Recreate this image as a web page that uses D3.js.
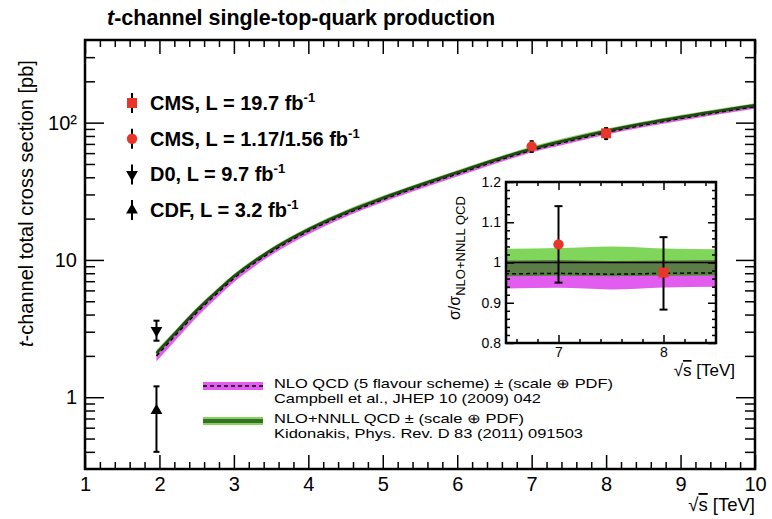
<!DOCTYPE html>
<html lang="en">
<head>
<meta charset="utf-8">
<title>t-channel single-top-quark production</title>
<script src="https://d3js.org/d3.v7.min.js"></script>
<style>
	body { margin: 0; background: #fff; }
	text { font-family: "Liberation Sans", Arial, Helvetica, sans-serif; fill: #000; }
	.axis path.domain { display: none; }
	.axis line { stroke: #000; stroke-width: 1.5; }
</style>
</head>
<body>
<div id="chart"></div>
<script>
// theory curves (sqrt(s) in TeV, cross section in pb)
var energy  = [1.96, 2.25, 2.5, 2.8, 3, 3.5, 4, 4.5, 5, 6, 6.5, 7, 7.5, 8, 8.5, 9, 10];
var nnll    = [2.1, 3.1, 4.3, 6.1, 7.6, 11.8, 16.7, 22.2, 28.3, 43.5, 53.5, 64.6, 75.5, 87.1, 98.5, 110, 134];
// bands and NLO as ratio to NLO+NNLL
var nnllLo  = [0.95, 0.955, 0.958, 0.96, 0.962, 0.963, 0.964, 0.965, 0.965, 0.966, 0.966, 0.967, 0.966, 0.967, 0.968, 0.968, 0.968];
var nnllHi  = [1.05, 1.045, 1.042, 1.04, 1.038, 1.037, 1.036, 1.036, 1.035, 1.035, 1.034, 1.036, 1.04, 1.035, 1.033, 1.033, 1.032];
var nloMid  = [0.95, 0.955, 0.96, 0.963, 0.965, 0.968, 0.97, 0.97, 0.971, 0.972, 0.972, 0.973, 0.971, 0.973, 0.974, 0.974, 0.975];
var nloLo   = [0.87, 0.88, 0.89, 0.9, 0.905, 0.915, 0.92, 0.925, 0.928, 0.932, 0.935, 0.937, 0.933, 0.938, 0.94, 0.94, 0.942];
var nloHi   = [1.0, 1.0, 1.0, 1.0, 1.0, 1.003, 1.004, 1.005, 1.005, 1.005, 1.005, 1.006, 1.004, 1.005, 1.006, 1.006, 1.007];

// measurements
var cmsE        = [7, 8];
var cmsSymbol   = ["circle", "square"];
var cmsXsec     = [67.2, 83.6];
var cmsErr      = [6.1, 7.7];
var cmsRatio    = [1.045, 0.975];
var cmsRatioLo  = [0.95, 0.883];
var cmsRatioHi  = [1.14, 1.063];
var tevE        = [1.96, 1.96];
var tevSymbol   = ["down", "up"];
var tevXsec     = [3.07, 0.8];
var tevLo       = [2.58, 0.4];
var tevHi       = [3.61, 1.2];

// legends and ticks
var legendLabels  = ["CMS, L = 19.7 fb", "CMS, L = 1.17/1.56 fb", "D0, L = 9.7 fb", "CDF, L = 3.2 fb"];
var legendSymbols = ["square", "circle", "down", "up"];
var theoryLabels  = ["NLO QCD (5 flavour scheme) \u00b1 (scale \u2295 PDF)", "Campbell et al., JHEP 10 (2009) 042",
                     "NLO+NNLL QCD \u00b1 (scale \u2295 PDF)", "Kidonakis, Phys. Rev. D 83 (2011) 091503"];
var xMajor  = [1, 2, 3, 4, 5, 6, 7, 8, 9, 10];
var yMajor  = [1, 10, 100];
var yMinor  = [0.4, 0.5, 0.6, 0.7, 0.8, 0.9, 2, 3, 4, 5, 6, 7, 8, 9, 20, 30, 40, 50, 60, 70, 80, 90, 200, 300];
var xiMajor = [7, 8];
var yiMajor = [0.8, 0.9, 1, 1.1, 1.2];

var w = 772, h = 519;
var red = "#e8372a", magenta = "#e25cf0", lightGreen = "#80d65a", darkBand = "#5b7d46", lineGreen = "#24451a";

var svg = d3.select("#chart").append("svg").attr("width", w).attr("height", h);

var x = d3.scaleLinear().domain([1, 10]).range([85, 755]);
var y = d3.scaleLog().domain([0.3, 400]).range([469, 40]);

var idx = d3.range(energy.length);
var ovLo = idx.map(function(i) { return Math.max(nloLo[i], nnllLo[i]); });
var ovHi = idx.map(function(i) { return Math.min(nloHi[i], nnllHi[i]); });

svg.append("clipPath").attr("id", "mainClip").append("rect")
	.attr("x", x(1)).attr("y", y(400)).attr("width", x(10) - x(1)).attr("height", y(0.3) - y(400));

var plot = svg.append("g").attr("clip-path", "url(#mainClip)");

function mainBand(lo, hi) {
	return d3.area().curve(d3.curveMonotoneX)
		.x(function(i) { return x(energy[i]); })
		.y0(function(i) { return y(nnll[i] * lo[i]); })
		.y1(function(i) { return y(nnll[i] * hi[i]); });
}
function mainLine(r) {
	return d3.line().curve(d3.curveMonotoneX)
		.x(function(i) { return x(energy[i]); })
		.y(function(i) { return y(nnll[i] * (r ? r[i] : 1)); });
}
plot.append("path").datum(idx).attr("d", mainBand(nloLo, nloHi)).attr("fill", magenta);
plot.append("path").datum(idx).attr("d", mainBand(nnllLo, nnllHi)).attr("fill", lightGreen);
plot.append("path").datum(idx).attr("d", mainBand(ovLo, ovHi)).attr("fill", darkBand);
plot.append("path").datum(idx).attr("d", mainLine(nloMid)).attr("fill", "none")
	.attr("stroke", "#000").attr("stroke-width", 1.5).attr("stroke-dasharray", "4,3");
plot.append("path").datum(idx).attr("d", mainLine(null)).attr("fill", "none")
	.attr("stroke", lineGreen).attr("stroke-width", 2.5);

// symbol helper
function symbolPath(kind) {
	if (kind === "square") return d3.symbol().type(d3.symbolSquare).size(100)();
	if (kind === "circle") return d3.symbol().type(d3.symbolCircle).size(85)();
	return d3.symbol().type(d3.symbolTriangle).size(60)();
}
function drawPoint(g, px, py, pyLo, pyHi, kind, color, cap) {
	g.append("line").attr("x1", px).attr("x2", px).attr("y1", pyLo).attr("y2", pyHi)
		.attr("stroke", "#000").attr("stroke-width", 2);
	if (cap) {
		g.append("line").attr("x1", px - cap).attr("x2", px + cap).attr("y1", pyLo).attr("y2", pyLo).attr("stroke", "#000").attr("stroke-width", 2);
		g.append("line").attr("x1", px - cap).attr("x2", px + cap).attr("y1", pyHi).attr("y2", pyHi).attr("stroke", "#000").attr("stroke-width", 2);
	}
	g.append("path").attr("d", symbolPath(kind))
		.attr("transform", "translate(" + px + "," + py + ")" + (kind === "down" ? " rotate(180)" : ""))
		.attr("fill", color);
}

// measurements on the main plot
cmsE.forEach(function(e, i) {
	drawPoint(svg, x(e), y(cmsXsec[i]), y(cmsXsec[i] - cmsErr[i]), y(cmsXsec[i] + cmsErr[i]), cmsSymbol[i], red, 2);
});
tevE.forEach(function(e, i) {
	drawPoint(svg, x(e), y(tevXsec[i]), y(tevLo[i]), y(tevHi[i]), tevSymbol[i], "#000", 3);
});

// axes with inward ROOT style ticks
var xMinor = d3.range(6, 50).filter(function(k) { return k % 5 !== 0; }).map(function(k) { return k / 5; });

svg.append("g").attr("class", "axis").attr("transform", "translate(0," + y(0.3) + ")")
	.call(d3.axisBottom(x).tickValues(xMajor).tickSize(-14).tickPadding(8).tickFormat(d3.format("d")))
	.selectAll("text").style("font-size", "20px");
svg.append("g").attr("class", "axis").attr("transform", "translate(0," + y(0.3) + ")")
	.call(d3.axisBottom(x).tickValues(xMinor).tickSize(-7).tickFormat(""));
svg.append("g").attr("class", "axis").attr("transform", "translate(0," + y(400) + ")")
	.call(d3.axisTop(x).tickValues(xMajor).tickSize(-14).tickFormat(""));
svg.append("g").attr("class", "axis").attr("transform", "translate(0," + y(400) + ")")
	.call(d3.axisTop(x).tickValues(xMinor).tickSize(-7).tickFormat(""));

svg.append("g").attr("class", "axis").attr("transform", "translate(" + x(1) + ",0)")
	.call(d3.axisLeft(y).tickValues(yMajor).tickSize(-19).tickPadding(8)
		.tickFormat(function(v) { return v === 100 ? "10\u00b2" : String(v); }))
	.selectAll("text").style("font-size", "20px");
svg.append("g").attr("class", "axis").attr("transform", "translate(" + x(1) + ",0)")
	.call(d3.axisLeft(y).tickValues(yMinor).tickSize(-10).tickFormat(""));
svg.append("g").attr("class", "axis").attr("transform", "translate(" + x(10) + ",0)")
	.call(d3.axisRight(y).tickValues(yMajor).tickSize(-19).tickFormat(""));
svg.append("g").attr("class", "axis").attr("transform", "translate(" + x(10) + ",0)")
	.call(d3.axisRight(y).tickValues(yMinor).tickSize(-10).tickFormat(""));

svg.append("rect").attr("x", x(1)).attr("y", y(400)).attr("width", x(10) - x(1)).attr("height", y(0.3) - y(400))
	.attr("fill", "none").attr("stroke", "#000").attr("stroke-width", 2.5);

// titles
var title = svg.append("text").attr("x", 107).attr("y", 25).style("font-size", "21.5px").style("font-weight", "bold");
title.append("tspan").style("font-style", "italic").text("t");
title.append("tspan").text("-channel single-top-quark production");

var ytitle = svg.append("text").attr("transform", "translate(33,347) rotate(-90)").style("font-size", "20px");
ytitle.append("tspan").style("font-style", "italic").text("t");
ytitle.append("tspan").text("-channel total cross section [pb]");

function sqrtTitle(px, py, size) {
	var t = svg.append("text").attr("x", px).attr("y", py).attr("text-anchor", "end").style("font-size", size + "px");
	t.append("tspan").text("\u221a");
	t.append("tspan").style("text-decoration", "overline").text("s");
	t.append("tspan").text(" [TeV]");
}
sqrtTitle(755, 511, 18.5);

// top-left legend
var leg = svg.append("g");
legendLabels.forEach(function(lab, i) {
	var ly = 103 + i * 35.7;
	drawPoint(leg, 132, ly, ly + 10, ly - 10, legendSymbols[i], i < 2 ? red : "#000", 0);
	var t = leg.append("text").attr("x", 150).attr("y", ly + 7).style("font-size", "20px").style("font-weight", "bold");
	t.append("tspan").text(lab);
	t.append("tspan").attr("dy", -8).style("font-size", "13px").text("-1");
});

// theory legend
var tleg = svg.append("g");
tleg.append("rect").attr("x", 203).attr("y", 382).attr("width", 60).attr("height", 8).attr("fill", magenta);
tleg.append("line").attr("x1", 203).attr("x2", 263).attr("y1", 386).attr("y2", 386)
	.attr("stroke", "#000").attr("stroke-width", 1.5).attr("stroke-dasharray", "4,3");
tleg.append("rect").attr("x", 203).attr("y", 417).attr("width", 60).attr("height", 8).attr("fill", lightGreen);
tleg.append("line").attr("x1", 203).attr("x2", 263).attr("y1", 421).attr("y2", 421)
	.attr("stroke", "#3b6e2a").attr("stroke-width", 4);
var tBase = [388, 403, 423, 438];
var tWidth = [339, 267, 250, 309];
theoryLabels.forEach(function(lab, i) {
	tleg.append("text").attr("x", 274).attr("y", tBase[i]).style("font-size", "13px")
		.attr("textLength", tWidth[i]).attr("lengthAdjust", "spacingAndGlyphs").text(lab);
});

// inset: ratio to NLO+NNLL
var xi = d3.scaleLinear().domain([6.5, 8.5]).range([506, 716]);
var yi = d3.scaleLinear().domain([0.8, 1.2]).range([343, 182]);
var inset = svg.append("g");
inset.append("rect").attr("x", xi(6.5)).attr("y", yi(1.2)).attr("width", xi(8.5) - xi(6.5)).attr("height", yi(0.8) - yi(1.2))
	.attr("fill", "#fff");
svg.append("clipPath").attr("id", "insetClip").append("rect")
	.attr("x", xi(6.5)).attr("y", yi(1.2)).attr("width", xi(8.5) - xi(6.5)).attr("height", yi(0.8) - yi(1.2));
var ip = inset.append("g").attr("clip-path", "url(#insetClip)");

function insetBand(lo, hi) {
	return d3.area().curve(d3.curveMonotoneX)
		.x(function(i) { return xi(energy[i]); })
		.y0(function(i) { return yi(lo[i]); })
		.y1(function(i) { return yi(hi[i]); });
}
ip.append("path").datum(idx).attr("d", insetBand(nloLo, nloHi)).attr("fill", magenta);
ip.append("path").datum(idx).attr("d", insetBand(nnllLo, nnllHi)).attr("fill", lightGreen);
ip.append("path").datum(idx).attr("d", insetBand(ovLo, ovHi)).attr("fill", darkBand);
ip.append("path").datum(idx).attr("d", d3.line().curve(d3.curveMonotoneX)
		.x(function(i) { return xi(energy[i]); }).y(function(i) { return yi(nloMid[i]); }))
	.attr("fill", "none").attr("stroke", "#000").attr("stroke-width", 1.5).attr("stroke-dasharray", "4,3");
ip.append("line").attr("x1", xi(6.5)).attr("x2", xi(8.5)).attr("y1", yi(1)).attr("y2", yi(1))
	.attr("stroke", "#000").attr("stroke-width", 1.5);

cmsE.forEach(function(e, i) {
	drawPoint(inset, xi(e), yi(cmsRatio[i]), yi(cmsRatioLo[i]), yi(cmsRatioHi[i]), cmsSymbol[i], red, 4);
});

var xiMinor = d3.range(33, 43).filter(function(k) { return k % 5 !== 0; }).map(function(k) { return k / 5; });
var yiMinor = d3.range(40, 61).filter(function(k) { return k % 5 !== 0; }).map(function(k) { return k / 50; });

inset.append("g").attr("class", "axis").attr("transform", "translate(0," + yi(0.8) + ")")
	.call(d3.axisBottom(xi).tickValues(xiMajor).tickSize(-8).tickPadding(4).tickFormat(d3.format("d")))
	.selectAll("text").style("font-size", "14px");
inset.append("g").attr("class", "axis").attr("transform", "translate(0," + yi(0.8) + ")")
	.call(d3.axisBottom(xi).tickValues(xiMinor).tickSize(-4).tickFormat(""));
inset.append("g").attr("class", "axis").attr("transform", "translate(0," + yi(1.2) + ")")
	.call(d3.axisTop(xi).tickValues(xiMajor).tickSize(-8).tickFormat(""));
inset.append("g").attr("class", "axis").attr("transform", "translate(0," + yi(1.2) + ")")
	.call(d3.axisTop(xi).tickValues(xiMinor).tickSize(-4).tickFormat(""));
inset.append("g").attr("class", "axis").attr("transform", "translate(" + xi(6.5) + ",0)")
	.call(d3.axisLeft(yi).tickValues(yiMajor).tickSize(-8).tickPadding(5).tickFormat(d3.format("~g")))
	.selectAll("text").style("font-size", "14px");
inset.append("g").attr("class", "axis").attr("transform", "translate(" + xi(6.5) + ",0)")
	.call(d3.axisLeft(yi).tickValues(yiMinor).tickSize(-4).tickFormat(""));
inset.append("g").attr("class", "axis").attr("transform", "translate(" + xi(8.5) + ",0)")
	.call(d3.axisRight(yi).tickValues(yiMajor).tickSize(-8).tickFormat(""));
inset.append("g").attr("class", "axis").attr("transform", "translate(" + xi(8.5) + ",0)")
	.call(d3.axisRight(yi).tickValues(yiMinor).tickSize(-4).tickFormat(""));

inset.append("rect").attr("x", xi(6.5)).attr("y", yi(1.2)).attr("width", xi(8.5) - xi(6.5)).attr("height", yi(0.8) - yi(1.2))
	.attr("fill", "none").attr("stroke", "#000").attr("stroke-width", 2.5);

var iyt = inset.append("text").attr("transform", "translate(460,320) rotate(-90)").style("font-size", "16px");
iyt.append("tspan").text("\u03c3/\u03c3");
iyt.append("tspan").attr("dy", 5).style("font-size", "13px").text("NLO+NNLL QCD");
sqrtTitle(735, 376, 17);
</script>
</body>
</html>
